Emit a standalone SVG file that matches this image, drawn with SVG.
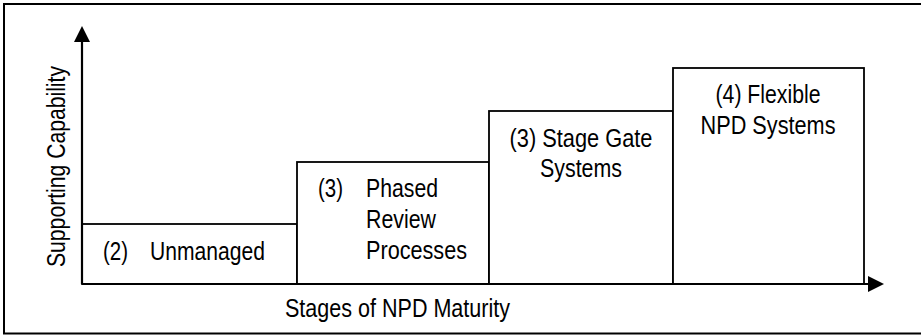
<svg xmlns="http://www.w3.org/2000/svg" width="921" height="336" viewBox="0 0 921 336">
  <style>
    .box { fill: #ffffff; stroke: #000000; stroke-width: 1.8; }
    .axis { fill: none; stroke: #000000; stroke-width: 2.2; }
    .head { fill: #000000; stroke: none; }
    .frame { fill: #ffffff; stroke: #000000; stroke-width: 2; }
    text { font-family: "Liberation Sans", Arial, Helvetica, sans-serif; font-size: 25px; fill: #000000; }
    .mid { text-anchor: middle; }
  </style>
  <rect class="frame" x="4" y="4" width="930" height="329.5"/>

  <g id="node-unmanaged">
    <rect class="box" x="82" y="224" width="215" height="60"/>
    <text x="103" y="260" textLength="25" lengthAdjust="spacingAndGlyphs">(2)</text>
    <text x="150" y="260" textLength="115" lengthAdjust="spacingAndGlyphs">Unmanaged</text>
  </g>

  <g id="node-phased">
    <rect class="box" x="297" y="162" width="192" height="122"/>
    <text x="318" y="197" textLength="25" lengthAdjust="spacingAndGlyphs">(3)</text>
    <text x="366" y="197" textLength="72" lengthAdjust="spacingAndGlyphs">Phased</text>
    <text x="366" y="228" textLength="70" lengthAdjust="spacingAndGlyphs">Review</text>
    <text x="366" y="259" textLength="101" lengthAdjust="spacingAndGlyphs">Processes</text>
  </g>

  <g id="node-stagegate">
    <rect class="box" x="489" y="111" width="184" height="173"/>
    <text class="mid" x="581" y="147" textLength="143" lengthAdjust="spacingAndGlyphs">(3) Stage Gate</text>
    <text class="mid" x="581" y="177" textLength="82" lengthAdjust="spacingAndGlyphs">Systems</text>
  </g>

  <g id="node-flexible">
    <rect class="box" x="673" y="68" width="191" height="216"/>
    <text class="mid" x="768" y="103" textLength="105" lengthAdjust="spacingAndGlyphs">(4) Flexible</text>
    <text class="mid" x="768" y="134" textLength="135" lengthAdjust="spacingAndGlyphs">NPD Systems</text>
  </g>

  <g id="connectors">
    <line class="axis" x1="82" y1="284" x2="82" y2="40"/>
    <polygon class="head" points="82,26 74,42 90,42"/>
    <line class="axis" x1="82" y1="284" x2="870" y2="284"/>
    <polygon class="head" points="884,284 868,276 868,292"/>
  </g>

  <g id="labels">
    <text x="285" y="317" textLength="225" lengthAdjust="spacingAndGlyphs">Stages of NPD Maturity</text>
    <text transform="translate(65,267) rotate(-90)" x="0" y="0" textLength="201" lengthAdjust="spacingAndGlyphs">Supporting Capability</text>
  </g>
</svg>
